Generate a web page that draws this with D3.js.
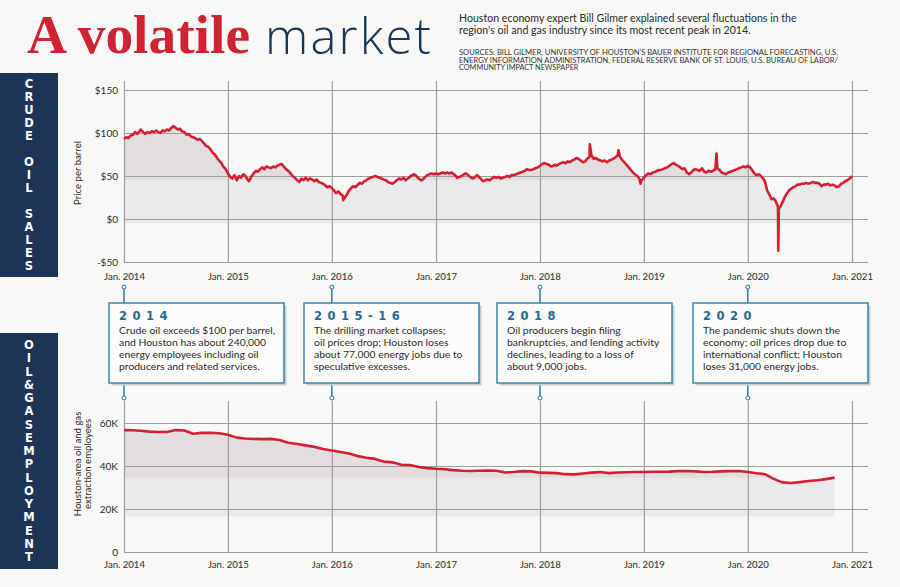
<!DOCTYPE html>
<html>
<head>
<meta charset="utf-8">
<script src="https://cdn.jsdelivr.net/npm/d3@7"></script>
<style>
  body { margin: 0; background: #f8f8f6; }
  svg { display: block; }
  text { font-family: Lato, "Open Sans", sans-serif; }
</style>
</head>
<body>
<svg id="chart" width="900" height="587"></svg>
<script>
// ---- data ----
// WTI crude price, four readings per month (roughly weekly),
// Jan. 2014 (month 0) through Jan. 2021 (month 84)
const oilPrices = [
  // 2014
  93, 95, 94, 97,   98, 101, 99, 102,   104, 101, 99, 101,   100, 102, 101, 103,
  101, 100, 103, 102,   104, 103, 106, 108,   106, 104, 105, 102,   101, 98, 99, 96,
  95, 94, 92, 93,   91, 88, 85, 84,   81, 77, 75, 71,   68, 65, 61, 58,
  // 2015
  53, 49, 47, 51,   45, 50, 48, 52,   51, 47, 44, 49,   53, 56, 55, 58,
  60, 58, 61, 60,   59, 61, 60, 62,   63, 64, 61, 58,   56, 53, 50, 48,
  45, 43, 47, 45,   48, 45, 47, 46,   44, 46, 43, 42,   41, 39, 37, 38,
  // 2016
  36, 33, 30, 32,   29, 27, 25, 29,   33, 36, 38, 37,   40, 42, 41, 44,
  45, 47, 48, 49,   50, 49, 48, 47,   46, 45, 43, 42,   41, 43, 45, 47,
  46, 48, 45, 47,   49, 51, 52, 50,   47, 45, 46, 49,   51, 52, 53, 52,
  // 2017
  53, 52, 53, 54,   53, 54, 53, 54,   53, 51, 48, 49,   50, 52, 53, 51,
  49, 47, 48, 51,   49, 46, 44, 45,   46, 45, 47, 49,   48, 49, 47, 48,
  49, 50, 49, 51,   51, 52, 53, 54,   55, 56, 58, 57,   57, 58, 59, 60,
  // 2018
  62, 64, 65, 64,   63, 61, 62, 63,   62, 64, 65, 66,   65, 67, 66, 68,
  69, 71, 70, 68,   66, 67, 70, 72,   74, 70, 71, 69,   68, 67, 68, 66,
  68, 69, 70, 72,   74, 72, 69, 66,   63, 60, 57, 54,   52, 50, 47, 45,
  // 2019
  48, 51, 53, 52,   54, 55, 56, 57,   57, 58, 59, 60,   62, 64, 65, 63,
  62, 60, 58, 59,   54, 52, 54, 57,   58, 57, 56, 59,   55, 54, 56, 55,
  56, 58, 59, 57,   54, 53, 52, 54,   55, 56, 57, 58,   59, 60, 61, 60,
  // 2020
  62, 60, 57, 53,   51, 52, 50, 47,   44, 33, 29, 23,   24, 20, 14, 14,
  19, 25, 29, 33,   35, 37, 38, 40,   40, 41, 41, 42,   41, 42, 43, 42,
  42, 41, 38, 40,   40, 41, 39, 40,   39, 37, 38, 41,   42, 44, 45, 47,
  // Jan. 2021
  50
];
// short-lived spikes between the weekly readings
const spikeMonths = [25.3, 53.8, 57.1, 59.65, 68.4, 75.55, 75.6];
const spikePrices = [22, 87, 80, 41, 76, -37, 12];

// Houston-area oil and gas extraction employees (thousands), monthly from Jan. 2014
const jobs = [
  56.7, 56.6, 56.4, 56.0, 55.8, 55.8, 56.7, 56.5, 55.0, 55.4, 55.5, 55.2,
  54.5, 53.2, 52.8, 52.6, 52.5, 52.6, 52.1, 50.8, 50.2, 49.6, 48.9, 47.9,
  47.2, 46.5, 45.8, 44.6, 43.8, 43.3, 42.1, 41.7, 40.6, 40.5, 39.5, 39.0,
  38.7, 38.5, 38.1, 37.8, 37.7, 37.8, 37.9, 37.8, 37.0, 37.2, 37.6, 37.5,
  36.9, 36.8, 36.7, 36.2, 36.1, 36.5, 36.9, 37.2, 36.7, 37.0, 37.1, 37.2,
  37.2, 37.3, 37.3, 37.4, 37.6, 37.7, 37.5, 37.2, 37.3, 37.5, 37.6, 37.7,
  37.2, 36.6, 36.2, 34.0, 32.4, 32.1, 32.5, 33.0, 33.4, 33.9, 34.6
];

const years = [2014, 2015, 2016, 2017, 2018, 2019, 2020, 2021];
const priceTicks = [150, 100, 50, 0, -50];
const jobTicks = [60000, 40000, 20000, 0];

const noteYears = ["2014", "2015-16", "2018", "2020"];
const noteMonths = [0, 24, 48, 72];
const noteLines = [
  ["Crude oil exceeds $100 per barrel,", "and Houston has about 240,000", "energy employees including oil", "producers and related services."],
  ["The drilling market collapses;", "oil prices drop; Houston loses", "about 77,000 energy jobs due to", "speculative excesses."],
  ["Oil producers begin filing", "bankruptcies, and lending activity", "declines, leading to a loss of", "about 9,000 jobs."],
  ["The pandemic shuts down the", "economy; oil prices drop due to", "international conflict; Houston", "loses 31,000 energy jobs."]
];

const sources = [
  "SOURCES: BILL GILMER, UNIVERSITY OF HOUSTON'S BAUER INSTITUTE FOR REGIONAL FORECASTING, U.S.",
  "ENERGY INFORMATION ADMINISTRATION, FEDERAL RESERVE BANK OF ST. LOUIS, U.S. BUREAU OF LABOR/",
  "COMMUNITY IMPACT NEWSPAPER"
];

// ---- helpers ----
const monthDate = m => d3.timeDay.offset(new Date(2014, Math.floor(m), 1), Math.round((m - Math.floor(m)) * 30));

let oil = oilPrices.map((v, i) => ({ m: i / 4, v }));
spikeMonths.forEach((m, i) => oil.push({ m, v: spikePrices[i] }));
oil.sort((a, b) => a.m - b.m);
const emp = jobs.map((v, i) => ({ m: i, v: v * 1000 }));

const svg = d3.select("#chart");
const red = "#d21f33";
const navy = "#1c3455";
const teal = "#2f78a3";

const x = d3.scaleTime()
  .domain([new Date(2014, 0, 1), new Date(2021, 0, 1)])
  .range([124, 852]);
const yTop = d3.scaleLinear().domain([-50, 150]).range([262, 90]);
const yBot = d3.scaleLinear().domain([0, 60000]).range([552, 423]);

// ---- title block ----
const t1 = svg.append("text")
  .attr("x", 27).attr("y", 53)
  .style("font-family", "'Liberation Serif', 'DejaVu Serif', serif")
  .style("font-weight", 700)
  .style("font-size", "55px")
  .attr("fill", "#cf2233")
  .text("A volatile");
let w = t1.node().getComputedTextLength();
t1.style("font-size", (55 * 223 / w) + "px");

// "market" in a light sans, spread to the width it has in the print version
const t2 = svg.append("text")
  .attr("x", 265).attr("y", 53.5)
  .style("font-family", "'Open Sans', Lato, sans-serif")
  .style("font-weight", 300)
  .style("font-size", "49px")
  .attr("fill", navy)
  .text("market");
w = t2.node().getComputedTextLength();
if (w < 168) t2.style("letter-spacing", ((168 - w) / 6) + "px");

svg.selectAll(".sub")
  .data(["Houston economy expert Bill Gilmer explained several fluctuations in the",
         "region's oil and gas industry since its most recent peak in 2014."])
  .enter().append("text")
  .attr("x", 459).attr("y", (d, i) => 21.5 + i * 12)
  .style("font-size", "10.6px")
  .style("font-weight", 400)
  .attr("fill", "#2a2a2a")
  .text(d => d);

svg.selectAll(".src")
  .data(sources)
  .enter().append("text")
  .attr("x", 459).attr("y", (d, i) => 55 + i * 7.5)
  .style("font-size", "7.3px")
  .attr("fill", "#333")
  .attr("textLength", (d, i) => i < 2 ? 379 : null)
  .attr("lengthAdjust", "spacingAndGlyphs")
  .text(d => d);

// ---- side labels ----
function sideLabel(y0, y1, letters, firstY, step) {
  svg.append("rect").attr("x", 0).attr("y", y0).attr("width", 58).attr("height", y1 - y0).attr("fill", navy);
  svg.append("g").selectAll("text")
    .data(letters.split(""))
    .enter().append("text")
    .attr("x", 29)
    .attr("y", (d, i) => firstY + i * step + 4)
    .attr("text-anchor", "middle")
    .style("font-family", "'DejaVu Sans', sans-serif")
    .style("font-weight", 700)
    .style("font-size", "11.5px")
    .attr("fill", "#fff")
    .text(d => d);
}
sideLabel(73, 277, "CRUDE OIL SALES", 84, 13);
sideLabel(333, 569, "OIL&GASEMPLOYMENT", 345, 13.25);

// ---- panel drawing ----
function panel(data, y, yTicks, fmt, baseVal, splitVal, axisY, topY, labelPad, lineW) {
  const g = svg.append("g");

  // light fill under the line
  g.append("path")
    .datum(data)
    .attr("fill", "#ebeaea")
    .attr("d", d3.area().x(d => x(monthDate(d.m))).y0(y(baseVal)).y1(d => y(d.v)));
  // darker band above the split level
  g.append("path")
    .datum(data)
    .attr("fill", "#e2dedf")
    .attr("d", d3.area().x(d => x(monthDate(d.m))).y0(y(splitVal)).y1(d => y(Math.max(d.v, splitVal))));

  // horizontal gridlines + value labels
  const ya = g.append("g")
    .attr("transform", "translate(124,0)")
    .call(d3.axisLeft(y).tickValues(yTicks).tickSize(-(868 - 124)).tickPadding(6).tickFormat(fmt));
  ya.select(".domain").remove();
  ya.selectAll("line").attr("stroke", "#9d9d9d").attr("stroke-width", 1.2);
  ya.selectAll("text").attr("x", -6).style("font-size", "10px").attr("fill", "#2b2b2b")
    .style("font-family", "Lato, sans-serif");

  // vertical January gridlines + labels
  const xa = g.append("g")
    .attr("transform", `translate(0,${axisY})`)
    .call(d3.axisBottom(x).tickValues(years.map(yr => new Date(yr, 0, 1)))
      .tickSize(-(axisY - topY)).tickPadding(labelPad).tickFormat(d3.timeFormat("Jan. %Y")));
  xa.select(".domain").remove();
  xa.selectAll("line").attr("stroke", "#9d9d9d").attr("stroke-width", 1.2);
  xa.selectAll("text").style("font-size", "9.6px").attr("fill", "#2b2b2b")
    .style("font-family", "Lato, sans-serif");

  // the line itself
  g.append("path")
    .datum(data)
    .attr("fill", "none")
    .attr("stroke", red)
    .attr("stroke-width", lineW)
    .attr("stroke-linejoin", "round")
    .attr("d", d3.line().x(d => x(monthDate(d.m))).y(d => y(d.v)));
}

panel(oil, yTop, priceTicks, d => d < 0 ? "-$" + (-d) : "$" + d, -5, 45, 262, 81, 11, 2.6);
panel(emp, yBot, jobTicks, d => d === 0 ? "0" : (d / 1000) + "K", 16500, 34500, 552, 401, 9, 2.6);

// axis titles
svg.append("text")
  .attr("transform", "translate(80.5,173) rotate(-90)")
  .attr("text-anchor", "middle")
  .style("font-size", "9.6px").attr("fill", "#2b2b2b")
  .text("Price per barrel");
svg.selectAll(".jt")
  .data(["Houston-area oil and gas", "extraction employees"])
  .enter().append("text")
  .attr("transform", (d, i) => `translate(${80.5 + i * 10},464) rotate(-90)`)
  .attr("text-anchor", "middle")
  .style("font-size", "9.6px").attr("fill", "#2b2b2b")
  .text(d => d);

// ---- annotation boxes ----
const boxW = 175, boxTop = 303, boxH = 80;
noteYears.forEach((yr, i) => {
  const ax = x(monthDate(noteMonths[i]));
  const bx = [109, 304, 497, 693][i];
  const g = svg.append("g");

  g.append("line").attr("x1", ax).attr("x2", ax).attr("y1", 287).attr("y2", 398)
    .attr("stroke", teal).attr("stroke-width", 1.5);
  [287, 398].forEach(cy => g.append("circle").attr("cx", ax).attr("cy", cy).attr("r", 2)
    .attr("fill", "#f8f8f6").attr("stroke", teal).attr("stroke-width", 1));

  g.append("rect").attr("x", bx + 2.5).attr("y", boxTop + 2.5).attr("width", boxW).attr("height", boxH)
    .attr("fill", "#c9cccf");
  g.append("rect").attr("x", bx).attr("y", boxTop).attr("width", boxW).attr("height", boxH)
    .attr("fill", "#fcfcfb").attr("stroke", "#3d82ab").attr("stroke-width", 1.5);

  g.append("text").attr("x", bx + 10).attr("y", boxTop + 16.5)
    .style("font-family", "'DejaVu Sans', sans-serif")
    .style("font-weight", 700).style("font-size", "11.5px")
    .style("letter-spacing", "5.5px")
    .attr("fill", "#1f6a90")
    .text(yr);

  g.selectAll(".ln").data(noteLines[i]).enter().append("text")
    .attr("x", bx + 10).attr("y", (d, j) => boxTop + 30.5 + j * 12)
    .style("font-size", "10.4px").attr("fill", "#2b2b2b")
    .text(d => d);
});
</script>
</body>
</html>
